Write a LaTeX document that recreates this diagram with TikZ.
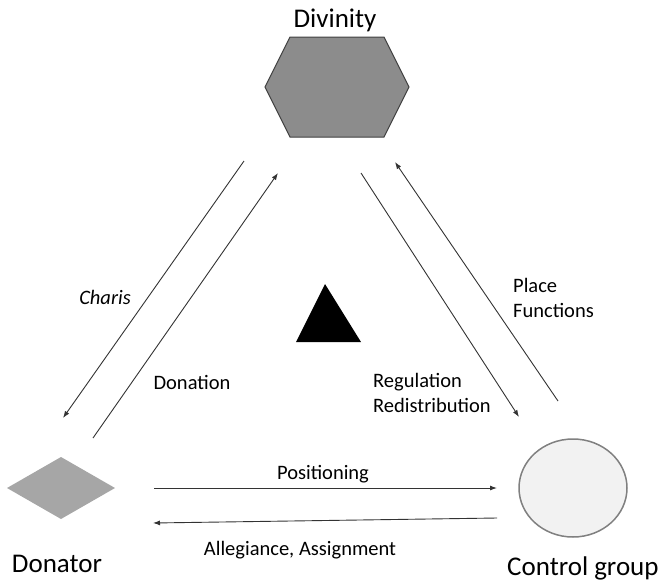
\documentclass[tikz,border=0pt]{standalone}
\usepackage{fontspec}
\setmainfont{Carlito}
\usetikzlibrary{arrows.meta}

\begin{document}
\begin{tikzpicture}[x=1pt,y=-1pt,>={Latex[length=7pt,width=5pt]},
  big/.style={font=\fontsize{27}{32}\selectfont,inner sep=0pt,anchor=base},
  small/.style={font=\fontsize{20.5}{25}\selectfont,inner sep=0pt,anchor=base},
  flow/.style={->,line width=0.9pt,draw=black!80}]
\useasboundingbox (0,0) rectangle (662,582);

% the three parties
\draw[fill=black!45,draw=black!75,line width=1pt]
  (290,37) -- (384,37) -- (409,87) -- (384,137) -- (290,137) -- (265,87) -- cycle;
\node (div) at (337,87) {};
\fill[black!35] (7,488) -- (61,457) -- (115,488) -- (61,519) -- cycle;
\node (don) at (61,488) {};
\draw[fill=black!5,draw=black!50,line width=1.5pt] (573,488) ellipse (54 and 49);
\node (ctl) at (573,488) {};
\fill[black] (325,284) -- (361,342) -- (296,342) -- cycle;

\node[big] (divlbl) at (335,27) {Divinity};
\node[big] (donlbl) at (57,572) {Donator};
\node[big,anchor=base west] (ctllbl) at (507,575) {Control group};

% end points of the arrows
\coordinate (c1) at (244,161); \coordinate (c2) at (63,418);
\coordinate (d1) at (93,438);  \coordinate (d2) at (278,173);
\coordinate (r1) at (361,173); \coordinate (r2) at (519,417);
\coordinate (p1) at (558,401); \coordinate (p2) at (395,162);
\coordinate (q1) at (154,488); \coordinate (q2) at (497,488);
\coordinate (a1) at (497,518); \coordinate (a2) at (153,523);

\draw[flow] (c1) -- (c2);
\draw[flow] (d1) -- (d2);
\draw[flow] (r1) -- (r2);
\draw[flow] (p1) -- (p2);
\draw[flow] (q1) -- (q2);
\draw[flow] (a1) -- (a2);

\node[small] (charis) at (105,304) {\itshape Charis};
\node[small] (donation) at (192,389) {Donation};
\node[small,anchor=base west,align=left] (regul) at (373,412) {Regulation\\Redistribution};
\node[small,anchor=base west,align=left] (place) at (513,317) {Place\\Functions};
\node[small] (posit) at (323,479) {Positioning};
\node[small] (alleg) at (300,555) {Allegiance, Assignment};
\end{tikzpicture}
\end{document}
